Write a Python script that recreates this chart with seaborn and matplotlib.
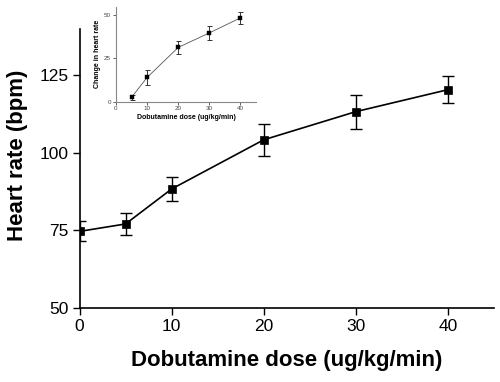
import matplotlib
matplotlib.use("Agg")
import matplotlib.pyplot as plt
import seaborn as sns
import pandas as pd

sns.set_theme(style="ticks")
plt.rcParams['font.family'] = ['Liberation Sans', 'DejaVu Sans']
plt.rcParams['text.color'] = 'black'
plt.rcParams['axes.labelcolor'] = 'black'

# Main data
dose = [0, 5, 10, 20, 30, 40]
heart_rate = [74.6, 77.0, 88.3, 104.2, 113.3, 120.4]
hr_err = [3.2, 3.5, 4.0, 5.2, 5.5, 4.3]

# Inset data
inset_dose = [5, 10, 20, 30, 40]
hr_change = [2.5, 14.0, 31.4, 39.8, 48.5]
change_err = [1.5, 4.2, 3.7, 4.2, 3.5]

main_df = pd.DataFrame({"dose": dose, "hr": heart_rate})
inset_df = pd.DataFrame({"dose": inset_dose, "chg": hr_change})

fig = plt.figure(figsize=(5, 3.82), dpi=100)
ax = fig.add_axes([0.159, 0.195, 0.829, 0.729])

ax.errorbar(dose, heart_rate, yerr=hr_err, fmt="none", ecolor="black",
            elinewidth=1.0, capsize=4.5, capthick=1.0, zorder=2)
sns.lineplot(data=main_df, x="dose", y="hr", ax=ax, color="black", linewidth=1.2,
             marker="s", markersize=6, markeredgecolor="black", markeredgewidth=0.5,
             zorder=3)

ax.set_xlim(0, 45)
ax.set_ylim(50, 140)
ax.set_xticks([0, 10, 20, 30, 40])
ax.set_yticks([50, 75, 100, 125])
ax.tick_params(axis="both", direction="out", length=5, width=1.0, labelsize=12.5,
               colors="black", pad=3)
for s in ["top", "right"]:
    ax.spines[s].set_visible(False)
for s in ["left", "bottom"]:
    ax.spines[s].set_color("black")
    ax.spines[s].set_linewidth(1.2)
ax.set_xlabel("Dobutamine dose (ug/kg/min)", fontsize=16, fontweight="bold",
              labelpad=12, color="black")
ax.set_ylabel("Heart rate (bpm)", fontsize=16, fontweight="bold", labelpad=8,
              color="black")
ax.yaxis.label.set_y(0.545)

# Inset
ins = fig.add_axes([0.232, 0.734, 0.28, 0.2485])
ins.errorbar(inset_dose, hr_change, yerr=change_err, fmt="none", ecolor="#333333",
             elinewidth=0.7, capsize=1.8, capthick=0.7, zorder=2)
sns.lineplot(data=inset_df, x="dose", y="chg", ax=ins, color="#555555", linewidth=0.6,
             marker="s", markersize=3, markerfacecolor="black",
             markeredgecolor="black", markeredgewidth=0.3, zorder=3)
ins.set_xlim(0, 45)
ins.set_ylim(0, 55)
ins.set_xticks([0, 10, 20, 30, 40])
ins.set_yticks([0, 25, 50])
ins.tick_params(axis="both", direction="out", length=2, width=0.6, labelsize=4.5,
                colors="#444444", pad=1.5)
for s in ["top", "right"]:
    ins.spines[s].set_visible(False)
for s in ["left", "bottom"]:
    ins.spines[s].set_color("#888888")
    ins.spines[s].set_linewidth(0.8)
ins.set_xlabel("Dobutamine dose (ug/kg/min)", fontsize=5, fontweight="bold",
               labelpad=2, color="black")
ins.set_ylabel("Change in heart rate", fontsize=5, fontweight="bold", labelpad=2,
               color="black")
ins.patch.set_alpha(0)

fig.savefig("out.png", dpi=100)
